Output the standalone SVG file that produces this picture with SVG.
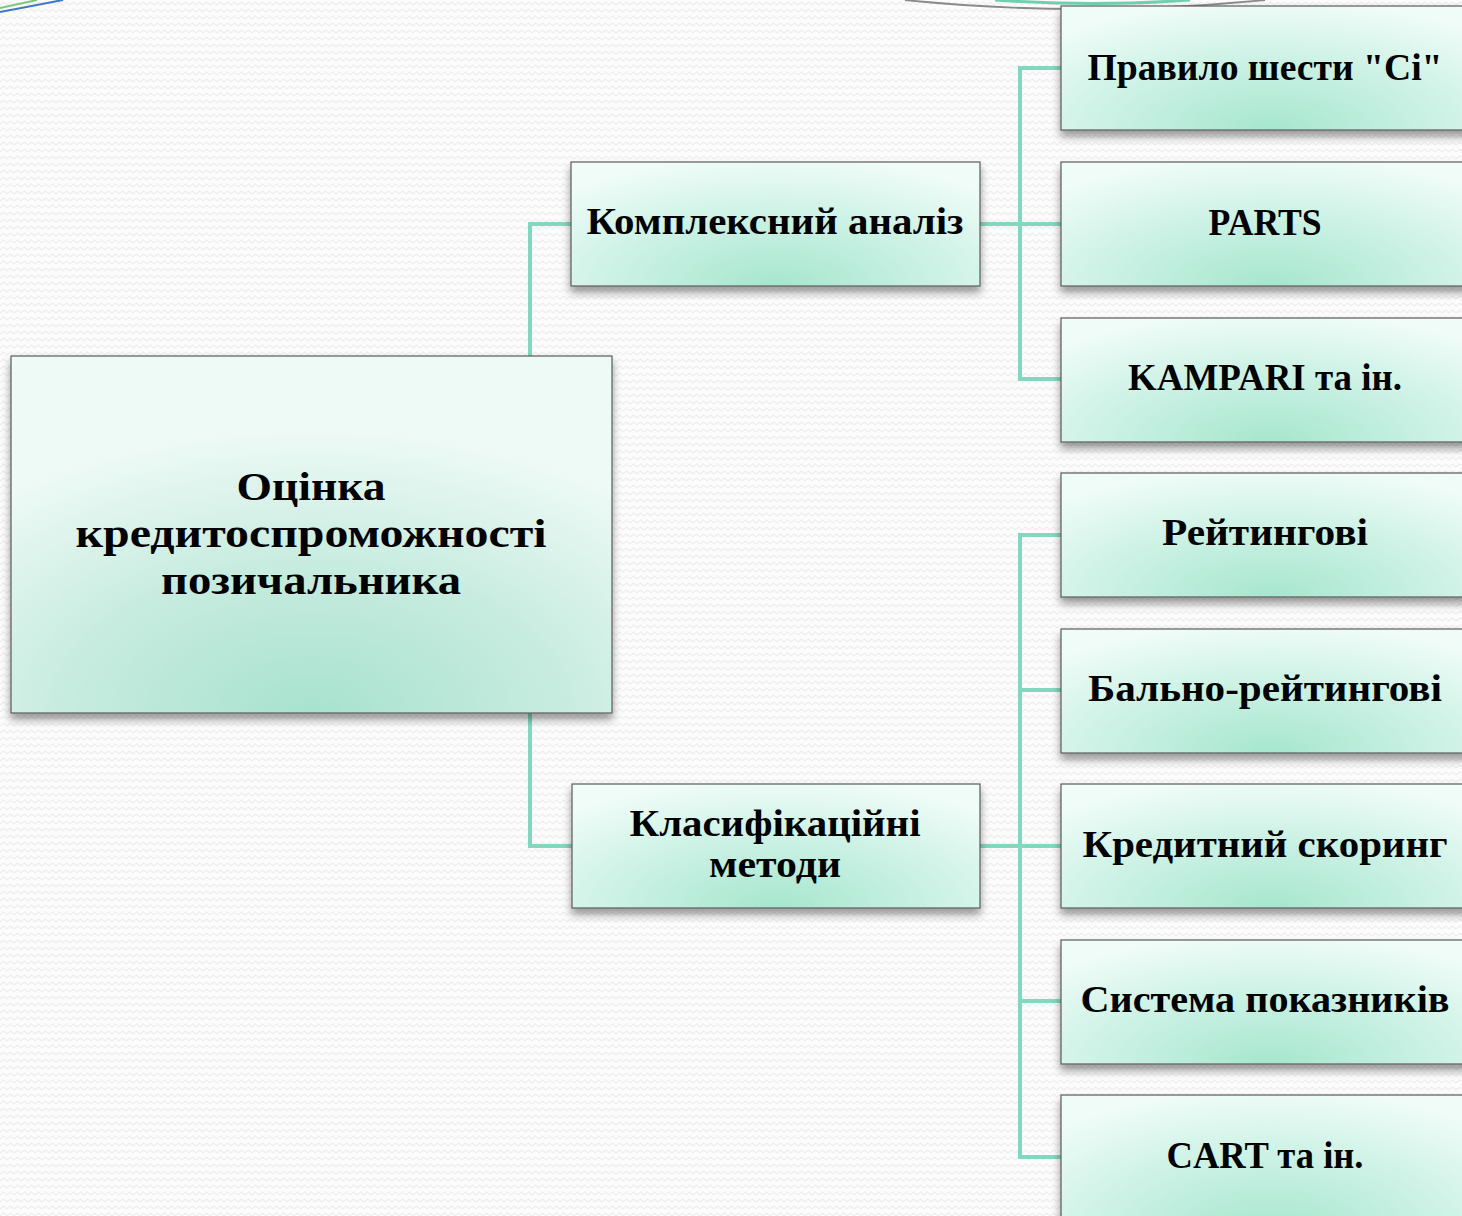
<svg xmlns="http://www.w3.org/2000/svg" width="1462" height="1216" viewBox="0 0 1462 1216">
<defs>
<pattern id="bgp" width="14" height="14" patternUnits="userSpaceOnUse">
<rect width="14" height="14" fill="#fcfcfc"/>
<path d="M0 5 L3.5 2 L7 5 L10.5 2 L14 5 M0 12 L3.5 9 L7 12 L10.5 9 L14 12" fill="none" stroke="#eeeeee" stroke-width="1.2"/>
</pattern>
<radialGradient id="g" cx="0.5" cy="1" r="0.75" gradientTransform="translate(0.5 1) scale(1 1.4) translate(-0.5 -1)">
<stop offset="0" stop-color="#a6e6cf"/>
<stop offset="0.55" stop-color="#cdf2e5"/>
<stop offset="1" stop-color="#f0fcf8"/>
</radialGradient>
<radialGradient id="gm" cx="0.5" cy="1" r="0.8">
<stop offset="0" stop-color="#a8e2cf"/>
<stop offset="0.5" stop-color="#c6ebdf"/>
<stop offset="1" stop-color="#eefaf6"/>
</radialGradient>
<filter id="sh" x="-10%" y="-10%" width="120%" height="130%">
<feDropShadow dx="0" dy="6" stdDeviation="4" flood-color="#000" flood-opacity="0.4"/>
</filter>
</defs>
<style>
.n{fill:url(#g);stroke:#5a5a5a;stroke-width:1.2;filter:url(#sh)}
.m{fill:url(#gm);stroke:#5a5a5a;stroke-width:1.2;filter:url(#sh)}
.t{font-family:"Liberation Serif","DejaVu Serif",serif;font-weight:bold;font-size:38px;fill:#000;text-anchor:middle}
.tm{font-size:41px}
.c{fill:none;stroke:#82d8bf;stroke-width:4}
</style>
<rect width="1462" height="1216" fill="url(#bgp)"/>
<g id="decor" fill="none">
<path d="M0 8 L37 0" stroke="#7cc97a" stroke-width="2"/>
<path d="M0 12 L63 0" stroke="#3f78c8" stroke-width="2"/>
<path d="M905 0 Q1080 18 1265 0" stroke="#8a8a8a" stroke-width="1.8"/>
<path d="M995 0 Q1095 7 1190 0" stroke="#6fd0b0" stroke-width="3"/>
</g>
<g id="connectors">
<path class="c" d="M530 356 V224 H571"/>
<path class="c" d="M530 713 V846 H572"/>
<path class="c" d="M980 224 H1061 M1061 68 H1020 V379 H1061"/>
<path class="c" d="M980 846 H1061 M1061 535 H1020 V1157 H1061 M1020 690 H1061 M1020 1001 H1061"/>
</g>
<g id="main">
<rect class="m" x="11" y="356" width="601" height="357"/>
<text class="t tm" x="311" y="500" textLength="149" lengthAdjust="spacingAndGlyphs">Оцінка</text>
<text class="t tm" x="311" y="547" textLength="471" lengthAdjust="spacingAndGlyphs">кредитоспроможності</text>
<text class="t tm" x="311" y="594" textLength="300" lengthAdjust="spacingAndGlyphs">позичальника</text>
</g>
<g id="kompleksnyi">
<rect class="n" x="571" y="162" width="409" height="124"/>
<text class="t" x="775" y="234" textLength="377" lengthAdjust="spacingAndGlyphs">Комплексний аналіз</text>
</g>
<g id="klasyf">
<rect class="n" x="572" y="784" width="408" height="124"/>
<text class="t" x="775" y="836" textLength="291" lengthAdjust="spacingAndGlyphs">Класифікаційні</text>
<text class="t" x="775" y="877" textLength="132" lengthAdjust="spacingAndGlyphs">методи</text>
</g>
<g id="r1"><rect class="n" x="1061" y="6" width="420" height="124"/><text class="t" x="1265" y="80" textLength="355" lengthAdjust="spacingAndGlyphs">Правило шести "Сі"</text></g>
<g id="r2"><rect class="n" x="1061" y="162" width="420" height="124"/><text class="t" x="1265" y="235" textLength="113" lengthAdjust="spacingAndGlyphs">PARTS</text></g>
<g id="r3"><rect class="n" x="1061" y="318" width="420" height="124"/><text class="t" x="1265" y="390" textLength="274" lengthAdjust="spacingAndGlyphs">KAMPARI та ін.</text></g>
<g id="r4"><rect class="n" x="1061" y="473" width="420" height="124"/><text class="t" x="1265" y="545" textLength="206" lengthAdjust="spacingAndGlyphs">Рейтингові</text></g>
<g id="r5"><rect class="n" x="1061" y="629" width="420" height="124"/><text class="t" x="1265" y="701" textLength="354" lengthAdjust="spacingAndGlyphs">Бально-рейтингові</text></g>
<g id="r6"><rect class="n" x="1061" y="784" width="420" height="124"/><text class="t" x="1265" y="857" textLength="365" lengthAdjust="spacingAndGlyphs">Кредитний скоринг</text></g>
<g id="r7"><rect class="n" x="1061" y="940" width="420" height="124"/><text class="t" x="1265" y="1012" textLength="369" lengthAdjust="spacingAndGlyphs">Система показників</text></g>
<g id="r8"><rect class="n" x="1061" y="1095" width="420" height="140"/><text class="t" x="1265" y="1168" textLength="197" lengthAdjust="spacingAndGlyphs">CART та ін.</text></g>
</svg>
